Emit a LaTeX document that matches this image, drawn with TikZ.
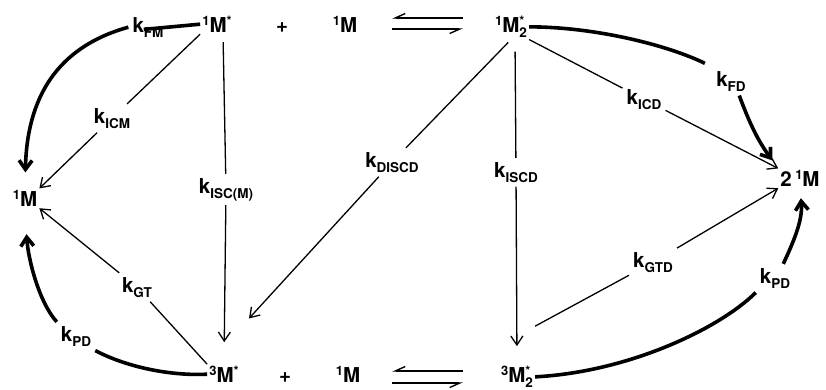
\documentclass[tikz,border=0pt]{standalone}
\usepackage{fontspec}
\setmainfont{TeX Gyre Heros}
\usetikzlibrary{arrows.meta}
\newcommand\spu[1]{\raisebox{0.3em}{\fontsize{13}{13}\selectfont #1}}
\newcommand\sbd[1]{\raisebox{-0.26em}{\fontsize{13.5}{13.5}\selectfont #1}}
\newcommand\kk[1]{k\sbd{#1}}
\newcommand\ps[2]{\rlap{\spu{#1}}\sbd{#2}}
\begin{document}
\begin{tikzpicture}[x=1pt,y=1pt,
  every node/.style={font=\fontsize{20.5}{24}\selectfont\bfseries, anchor=base},
  sp/.style={inner sep=2pt},
  lab/.style={inner sep=4pt},
  ln/.style={line width=1.3pt},
  arr/.style={ln, -{Straight Barb[length=9pt,width=12pt]}},
  thk/.style={line width=3.6pt},
  tarr/.style={thk, -{Straight Barb[length=9pt,width=13pt]}},
  hp/.style={line width=1.4pt, -{Straight Barb[harpoon,swap,length=10pt,width=9pt]}}]
\useasboundingbox (0,0) rectangle (826,-389);
% species
\node[sp] (m1s) at (217,-32) {\spu{1}M\spu{*}};
\node[sp] (plus1) at (282,-32) {+};
\node[sp] (m1a) at (345,-32) {\spu{1}M};
\node[sp] (m1d) at (511,-32) {\spu{1}M\ps{*}{2}};
\node[sp] (m1left) at (25,-206) {\spu{1}M};
\node[sp] (m2) at (800,-186) {2\,\spu{1}M};
\node[sp] (m3s) at (224,-382) {\spu{3}M\spu{*}};
\node[sp] (plus2) at (285,-382) {+};
\node[sp] (m1b) at (348,-382) {\spu{1}M};
\node[sp] (m3d) at (517,-382) {\spu{3}M\ps{*}{2}};
% labels
\node[lab] (kfm) at (148,-32) {\kk{FM}};
\node[lab] (kicm) at (112,-123) {\kk{ICM}};
\node[lab] (kiscm) at (226,-193) {\kk{ISC(M)}};
\node[lab] (kdiscd) at (392,-167) {\kk{DISCD}};
\node[lab] (kiscd) at (516,-177) {\kk{ISCD}};
\node[lab] (kicd) at (644,-104) {\kk{ICD}};
\node[lab] (kfd) at (731,-86) {\kk{FD}};
\node[lab] (kgt) at (137,-292) {\kk{GT}};
\node[lab] (kgtd) at (653,-267) {\kk{GTD}};
\node[lab] (kpdl) at (76,-341) {\kk{PD}};
\node[lab] (kpdr) at (775,-283) {\kk{PD}};
% equilibria
\coordinate (e1) at (463,-18); \coordinate (e2) at (392,-18);
\coordinate (e3) at (392,-29); \coordinate (e4) at (463,-29);
\coordinate (e5) at (463,-371); \coordinate (e6) at (392,-371);
\coordinate (e7) at (392,-383); \coordinate (e8) at (463,-383);
\draw[hp] (e1) -- (e2);
\draw[hp] (e3) -- (e4);
\draw[hp] (e5) -- (e6);
\draw[hp] (e7) -- (e8);
% kFM
\draw[thk, shorten >=-24pt] (m1s.west) -- (kfm.east);
\draw[tarr, shorten >=16pt] (kfm.west) .. controls +(-72,-20) and +(2,90) .. (m1left.north);
% kICM
\draw[ln] (m1s.south west) -- (kicm);
\draw[arr] (kicm) -- (m1left.north east);
% kISC(M)
\draw[ln, shorten <=8pt] ([xshift=6pt]m1s.south) -- (kiscm);
\draw[arr, shorten >=22pt] (kiscm) -- (m3s.north);
% kDISCD
\draw[ln, shorten <=4pt] (m1d.south) -- (kdiscd);
\draw[arr, shorten >=62pt] (kdiscd) -- (m3s.north west);
% kISCD
\draw[ln, shorten <=12pt] ([xshift=4pt]m1d.south) -- (kiscd);
\draw[arr, shorten >=18pt] (kiscd) -- (m3d.north);
% kICD
\draw[ln] (m1d.south east) -- (kicd);
\draw[arr] (kicd) -- (m2.north west);
% kFD
\draw[thk, shorten >=8pt] (m1d.east) .. controls +(65,0) and +(-45,22) .. (kfd.north west);
\draw[tarr, shorten >=10pt] (kfd.-60) to[bend right=8] (m2.north west);
% kGT
\draw[ln] (m3s.north west) -- (kgt);
\draw[arr] (kgt) -- (m1left.south east);
% kGTD
\draw[ln] ([yshift=38pt]m3d.north east) -- (kgtd);
\draw[arr] (kgtd) -- (m2.south west);
% kPD left
\draw[thk] (m3s.west) .. controls +(-40,-2) and +(28,-15) .. (kpdl.south east);
\draw[tarr, shorten >=26pt] (kpdl.north west) .. controls +(-18,20) and +(3,-50) .. (m1left.south);
% kPD right
\draw[thk] (m3d.east) .. controls +(95,5) and +(-35,-35) .. (kpdr.south west);
\draw[tarr, shorten >=10pt] (kpdr.60) to[out=65,in=-85] (m2.south);
\end{tikzpicture}
\end{document}
